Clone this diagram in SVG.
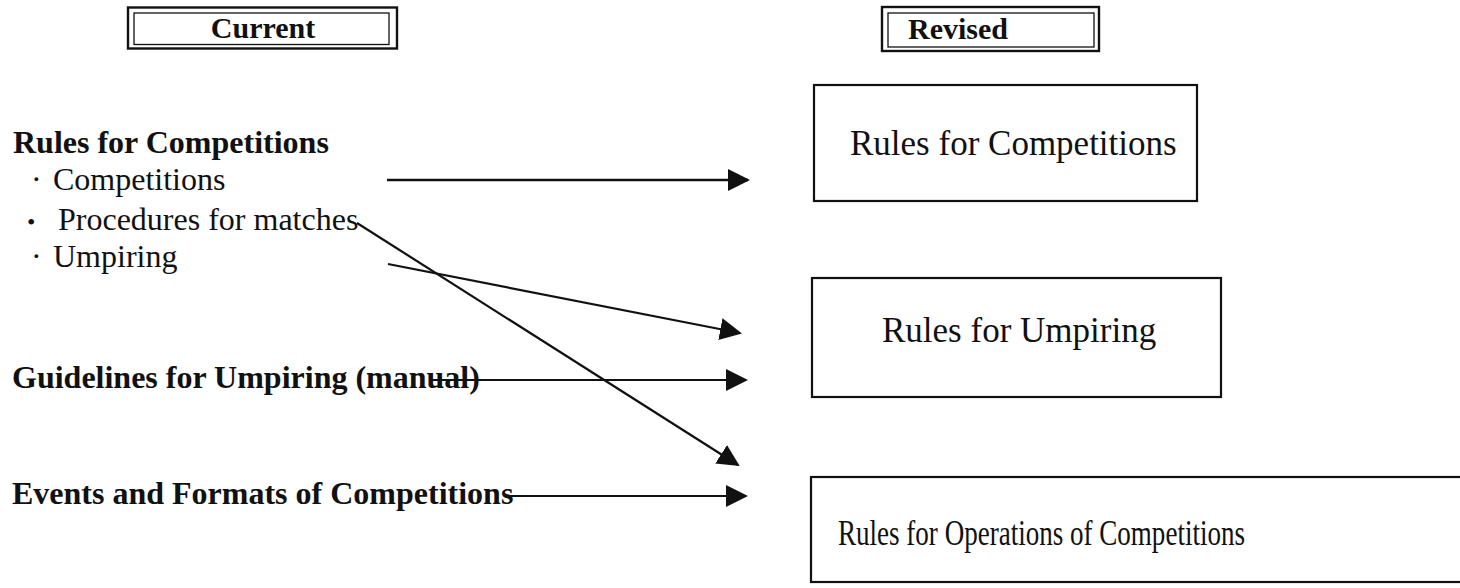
<svg xmlns="http://www.w3.org/2000/svg" width="1460" height="588" viewBox="0 0 1460 588">
  <style>
    .bg { fill: #ffffff; }
    .box { fill: none; stroke: #111; stroke-width: 2.2; }
    .outer { fill: none; stroke: #111; stroke-width: 2.4; }
    .inner { fill: none; stroke: #111; stroke-width: 1.3; }
    .hdr { font-family: "Liberation Serif", "Times New Roman", serif; font-weight: bold; font-size: 30px; fill: #111; }
    .lb { font-family: "Liberation Serif", "Times New Roman", serif; font-weight: bold; font-size: 32px; fill: #111; }
    .lr { font-family: "Liberation Serif", "Times New Roman", serif; font-size: 32px; fill: #111; }
    .bt { font-family: "Liberation Serif", "Times New Roman", serif; font-size: 35px; fill: #111; }
    .conn { fill: none; stroke: #111; stroke-width: 2.2; }
    .thick { stroke-width: 2.6; }
  </style>
  <defs>
    <marker id="ah" markerUnits="userSpaceOnUse" markerWidth="22" markerHeight="24" refX="20" refY="12" orient="auto">
      <path d="M0,1 L22,12 L0,23 Z" fill="#111"/>
    </marker>
  </defs>
  <rect class="bg" x="0" y="0" width="1460" height="588"/>

  <g id="header-current">
    <rect class="outer" x="128" y="7.5" width="269" height="41"/>
    <rect class="inner" x="134" y="13" width="255" height="31.5"/>
    <text class="hdr" x="263" y="38" text-anchor="middle">Current</text>
  </g>

  <g id="header-revised">
    <rect class="outer" x="882" y="7" width="217" height="44"/>
    <rect class="inner" x="888" y="13" width="206" height="34"/>
    <text class="hdr" x="908" y="39">Revised</text>
  </g>

  <g id="current-rules-for-competitions">
    <text class="lb" x="13" y="153">Rules for Competitions</text>
    <text class="lr" y="190"><tspan x="31">·</tspan><tspan x="53">Competitions</tspan></text>
    <text class="lr" y="230"><tspan x="27" font-size="24">•</tspan><tspan x="58">Procedures for matches</tspan></text>
    <text class="lr" y="267"><tspan x="31">·</tspan><tspan x="53">Umpiring</tspan></text>
  </g>

  <g id="current-guidelines">
    <text class="lb" x="12" y="388" font-size="31.5">Guidelines for Umpiring (manual)</text>
  </g>

  <g id="current-events">
    <text class="lb" x="12" y="504">Events and Formats of Competitions</text>
  </g>

  <g id="revised-rules-for-competitions">
    <rect class="box" x="814" y="85" width="383" height="116"/>
    <text class="bt" x="850" y="155" font-size="34">Rules for Competitions</text>
  </g>

  <g id="revised-rules-for-umpiring">
    <rect class="box" x="812" y="278" width="409" height="119"/>
    <text class="bt" x="882" y="342">Rules for Umpiring</text>
  </g>

  <g id="revised-rules-for-operations">
    <rect class="box" x="811" y="477" width="660" height="105"/>
    <text class="bt" x="838" y="545" font-size="32" textLength="407" lengthAdjust="spacingAndGlyphs">Rules for Operations of Competitions</text>
  </g>

  <g id="connectors">
    <line class="conn thick" x1="387" y1="180" x2="748" y2="180" marker-end="url(#ah)"/>
    <line class="conn" x1="388" y1="264" x2="740" y2="333" marker-end="url(#ah)"/>
    <line class="conn" x1="357" y1="223" x2="738" y2="465" marker-end="url(#ah)"/>
    <line class="conn" x1="430" y1="380" x2="746" y2="380" marker-end="url(#ah)"/>
    <line class="conn" x1="505" y1="496" x2="746" y2="496" marker-end="url(#ah)"/>
  </g>
</svg>
